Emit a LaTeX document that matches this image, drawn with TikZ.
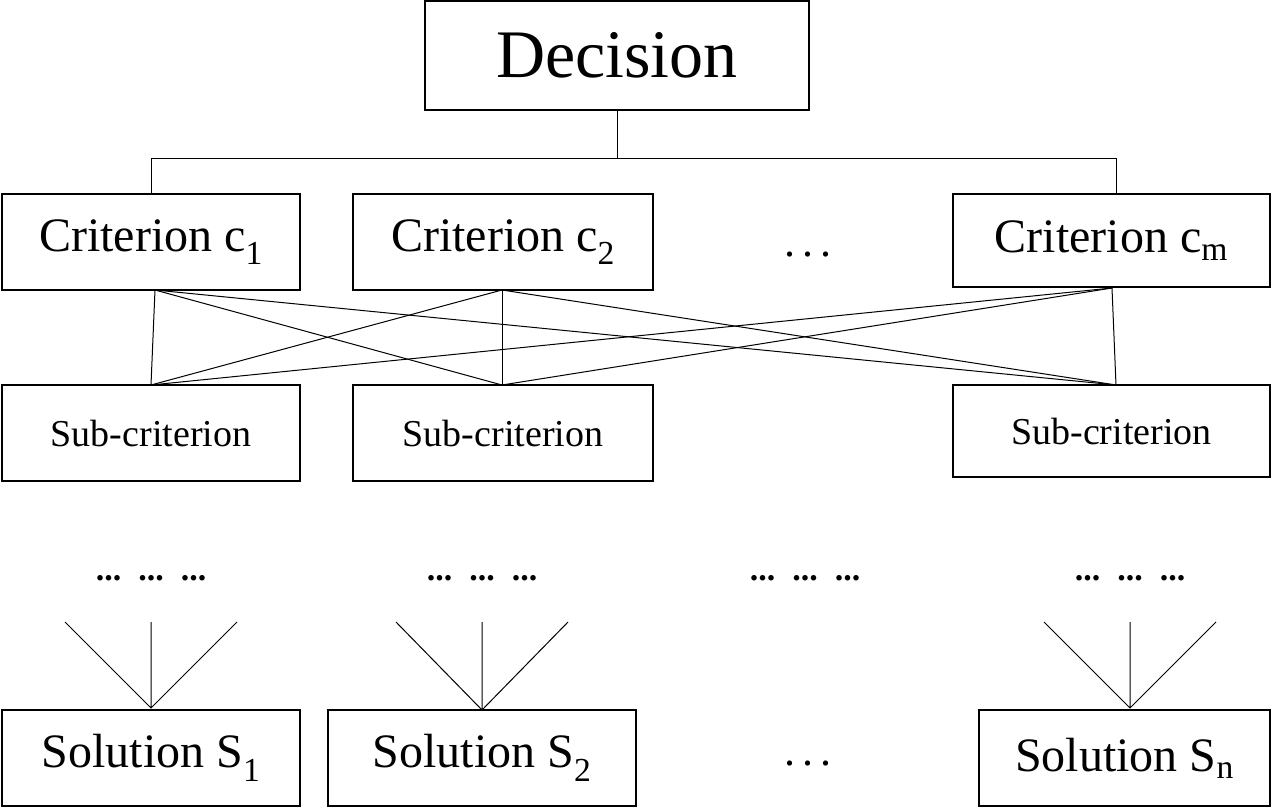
\documentclass[tikz,border=0pt]{standalone}
\usepackage{fontspec}
\setmainfont{Liberation Serif}
\begin{document}
\begin{tikzpicture}[x=1pt,y=-1pt,line width=1.3pt,
  bx/.style={draw,line width=1.3pt}]
\useasboundingbox (0,0) rectangle (1280,808);
\tikzset{box/.style args={#1/#2/#3/#4}{}}
\newcommand{\mybox}[6]{\draw[line width=1.3pt] (#2,#3) rectangle (#4,#5); \node[inner sep=0] (#1) at ({(#2+#4)/2},{(#3+#5)/2}) {#6};}
\mybox{dec}{425}{1}{809}{110}{\fontsize{68}{68}\selectfont Decision}
\mybox{c1}{2}{194}{300}{290}{\fontsize{48}{48}\selectfont Criterion c\textsubscript{1}}
\mybox{c2}{353}{194}{653}{290}{\fontsize{48}{48}\selectfont Criterion c\textsubscript{2}}
\mybox{cm}{953}{194}{1270}{287}{\fontsize{48}{48}\selectfont Criterion c\textsubscript{m}}
\mybox{s1}{2}{385}{300}{481}{\fontsize{38}{38}\selectfont Sub-criterion}
\mybox{s2}{353}{385}{653}{481}{\fontsize{38}{38}\selectfont Sub-criterion}
\mybox{s3}{953}{385}{1270}{477}{\fontsize{38}{38}\selectfont Sub-criterion}
\mybox{o1}{2}{710}{300}{806}{\fontsize{48}{48}\selectfont Solution S\textsubscript{1}}
\mybox{o2}{328}{710}{636}{806}{\fontsize{48}{48}\selectfont Solution S\textsubscript{2}}
\mybox{o3}{979}{710}{1270}{806}{\fontsize{48}{48}\selectfont Solution S\textsubscript{n}}
\node (d1) at (808,255) {\fontsize{44}{44}\selectfont .\,.\,.};
\node (d2) at (808,764) {\fontsize{44}{44}\selectfont .\,.\,.};
\draw[line width=1pt] (617,110) -- (617,158) (151,194) -- (151,158) -- (1116,158) -- (1116,194);
\coordinate (t1) at (155,290); \coordinate (t2) at (502,290); \coordinate (t3) at (1112,288);
\coordinate (b1) at (151,385); \coordinate (b2) at (502,385); \coordinate (b3) at (1116,385);
\foreach \t in {t1,t2,t3}{\foreach \b in {b1,b2,b3}{\draw[line width=1pt] (\t) -- (\b);}}
\foreach \x/\y in {151/708,482/710,1130/708}{
  \node at (\x,578) {\bfseries\fontsize{34}{34}\selectfont ...\ \ ...\ \ ...};
  \draw[line width=1pt] (\x-86,622) -- (\x,\y) -- (\x+86,622) (\x,622) -- (\x,\y);}
\node at (805,578) {\bfseries\fontsize{34}{34}\selectfont ...\ \ ...\ \ ...};
\end{tikzpicture}
\end{document}
